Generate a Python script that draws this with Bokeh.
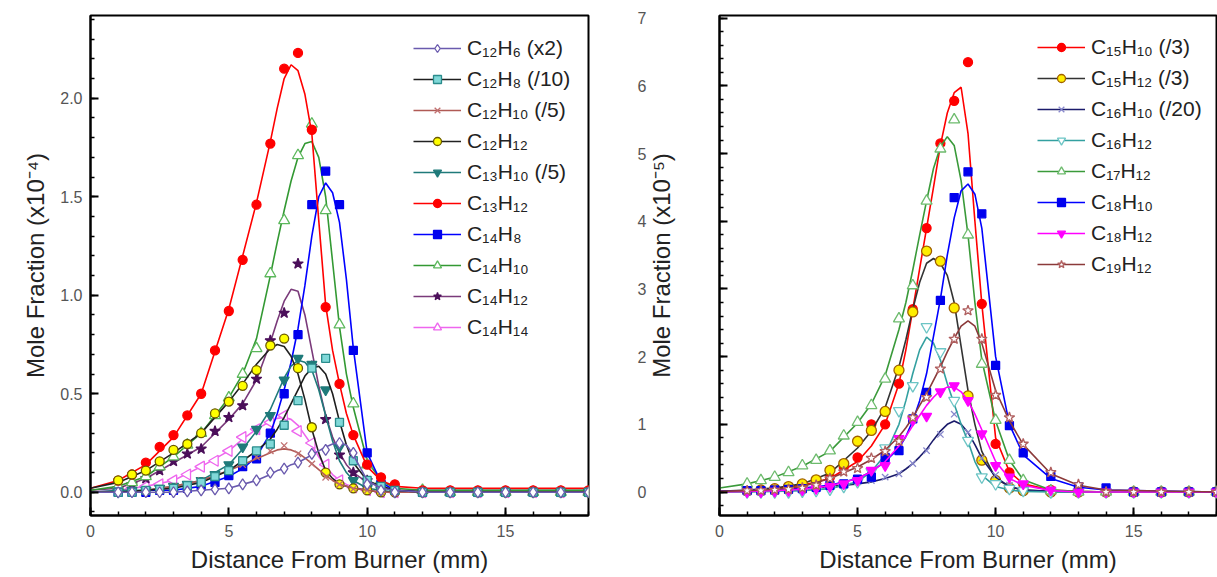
from bokeh.plotting import figure
from bokeh.models import Legend, LegendItem, SingleIntervalTicker, Range1d, NumeralTickFormatter
from bokeh.layouts import row
from bokeh.embed import file_html
from bokeh.resources import INLINE
import math

# ---------------- data ----------------
# measured points
distance = [1.0, 1.5, 2.0, 2.5, 3.0, 3.5, 4.0, 4.5, 5.0, 5.5, 6.0, 6.5, 7.0, 7.5,
            8.0, 8.5, 9.0, 9.5, 10.0, 10.5, 11.0, 12, 13, 14, 15, 16, 17, 18]
# positions at which the fitted curves were read
fit_distance = [0, 1, 2, 3, 4, 5, 5.5, 6, 6.5, 6.75, 7, 7.25, 7.5, 7.75, 8, 8.25, 8.5,
                8.75, 9, 9.25, 9.5, 10, 10.5, 11, 12, 13, 14, 18]

# left panel (x10^-4): measured points
c12h6 = [0.0, 0.0, 0.0, 0.0, 0.0, 0.005, 0.01, 0.015, 0.02, 0.04, 0.06, 0.10, 0.12, 0.15,
         0.195, 0.215, 0.25, 0.20, 0.04, 0.01, 0.0, 0, 0, 0, 0, 0, 0, 0]
c12h8 = [0.0, 0.0, 0.01, 0.015, 0.02, 0.034, 0.05, 0.08, 0.11, 0.16, 0.21, 0.245, 0.34, 0.465,
         0.63, 0.68, 0.355, 0.16, 0.06, 0.03, 0.01, 0, 0, 0, 0, 0, 0, 0]
c12h10 = [0.0, 0.005, 0.01, 0.02, 0.03, 0.04, 0.06, 0.08, 0.11, 0.14, 0.18, 0.21, 0.237, 0.195,
          0.144, 0.076, 0.04, 0.017, 0.01, 0.0, 0.0, 0, 0, 0, 0, 0, 0, 0]
c12h12 = [0.06, 0.09, 0.11, 0.157, 0.215, 0.245, 0.30, 0.40, 0.46, 0.54, 0.62, 0.745, 0.78, 0.63,
          0.33, 0.10, 0.04, 0.02, 0.01, 0.0, 0.0, 0, 0, 0, 0, 0, 0, 0]
c13h10 = [0.0, 0.01, 0.01, 0.02, 0.03, 0.04, 0.06, 0.09, 0.14, 0.23, 0.32, 0.39, 0.57, 0.68,
          0.65, 0.52, 0.23, 0.06, 0.02, 0.01, 0.0, 0, 0, 0, 0, 0, 0, 0]
c13h12 = [0.059, 0.09, 0.15, 0.23, 0.29, 0.39, 0.50, 0.72, 0.92, 1.18, 1.46, 1.77, 2.15, 2.23,
          1.84, 0.94, 0.55, 0.29, 0.14, 0.076, 0.04, 0.01, 0.01, 0.01, 0.01, 0.01, 0.01, 0.01]
c14h8 = [0.0, 0.0, 0.0, 0.01, 0.01, 0.02, 0.03, 0.05, 0.085, 0.13, 0.17, 0.30, 0.50, 0.80,
         1.46, 1.63, 1.46, 0.72, 0.20, 0.04, 0.01, 0, 0, 0, 0, 0, 0, 0]
c14h10 = [0.03, 0.05, 0.08, 0.13, 0.18, 0.24, 0.30, 0.39, 0.48, 0.60, 0.73, 1.11, 1.38, 1.71,
          1.87, 1.43, 0.85, 0.45, 0.14, 0.06, 0.02, 0.01, 0, 0, 0, 0, 0, 0]
c14h12 = [0.02, 0.04, 0.07, 0.11, 0.157, 0.195, 0.22, 0.31, 0.38, 0.44, 0.575, 0.77, 0.91, 1.16,
          0.64, 0.37, 0.19, 0.10, 0.06, 0.02, 0.01, 0, 0, 0, 0, 0, 0, 0]
c14h14 = [0.01, 0.02, 0.03, 0.04, 0.06, 0.09, 0.13, 0.16, 0.21, 0.28, 0.32, 0.355, 0.39, 0.31,
          0.25, 0.14, 0.06, 0.025, 0.01, 0.0, 0.0, 0, 0, 0, 0, 0, 0, 0]

# left panel (x10^-4): fitted curves
fit_c12h6 = [0, 0, 0, 0, 0.01, 0.02, 0.04, 0.06, 0.09, 0.11, 0.12, 0.14, 0.15, 0.17, 0.19,
             0.21, 0.23, 0.245, 0.25, 0.24, 0.19, 0.06, 0.02, 0.01, 0, 0, 0, 0]
fit_c12h8 = [0, 0, 0.01, 0.02, 0.05, 0.11, 0.16, 0.21, 0.27, 0.32, 0.38, 0.45, 0.52, 0.59,
             0.63, 0.64, 0.6, 0.5, 0.36, 0.24, 0.15, 0.06, 0.03, 0.01, 0, 0, 0, 0]
fit_c12h10 = [0, 0, 0.01, 0.03, 0.06, 0.11, 0.14, 0.17, 0.2, 0.215, 0.22, 0.215, 0.2, 0.175,
              0.145, 0.115, 0.085, 0.06, 0.04, 0.03, 0.02, 0.01, 0, 0, 0, 0, 0, 0]
fit_c12h12 = [0.02, 0.05, 0.11, 0.2, 0.3, 0.46, 0.55, 0.65, 0.73, 0.75, 0.74, 0.69, 0.6, 0.47,
              0.32, 0.2, 0.11, 0.07, 0.04, 0.03, 0.02, 0.01, 0, 0, 0, 0, 0, 0]
fit_c13h10 = [0, 0.01, 0.01, 0.03, 0.06, 0.14, 0.22, 0.31, 0.42, 0.5, 0.58, 0.64, 0.67, 0.66,
              0.62, 0.52, 0.39, 0.26, 0.16, 0.1, 0.06, 0.02, 0.01, 0, 0, 0, 0, 0]
fit_c13h12 = [0.02, 0.06, 0.14, 0.28, 0.5, 0.93, 1.2, 1.47, 1.78, 1.95, 2.1, 2.17, 2.14, 2.02,
              1.82, 1.38, 0.95, 0.72, 0.55, 0.4, 0.29, 0.13, 0.06, 0.03, 0.02, 0.02, 0.02, 0.02]
fit_c14h8 = [0, 0, 0.01, 0.01, 0.03, 0.08, 0.12, 0.18, 0.3, 0.4, 0.52, 0.66, 0.83, 1.05, 1.3,
             1.5, 1.57, 1.52, 1.37, 1.08, 0.73, 0.2, 0.05, 0.01, 0, 0, 0, 0]
fit_c14h10 = [0.01, 0.03, 0.08, 0.18, 0.3, 0.48, 0.6, 0.78, 1.1, 1.27, 1.43, 1.58, 1.7, 1.77,
              1.78, 1.7, 1.5, 1.17, 0.84, 0.6, 0.43, 0.16, 0.06, 0.02, 0.01, 0.01, 0.01, 0.01]
fit_c14h12 = [0.01, 0.02, 0.07, 0.15, 0.23, 0.37, 0.45, 0.57, 0.76, 0.87, 0.97, 1.03, 1.02, 0.9,
              0.72, 0.54, 0.39, 0.28, 0.2, 0.14, 0.1, 0.05, 0.03, 0.01, 0.01, 0.01, 0.01, 0.01]
fit_c14h14 = [0, 0.01, 0.03, 0.06, 0.13, 0.21, 0.27, 0.32, 0.36, 0.375, 0.38, 0.37, 0.34, 0.29,
              0.24, 0.18, 0.13, 0.09, 0.06, 0.04, 0.025, 0.01, 0, 0, 0, 0, 0, 0]

# right panel (x10^-5): measured points
c15h10 = [0.02, 0.03, 0.05, 0.07, 0.10, 0.17, 0.22, 0.37, 0.51, 1.0, 1.0, 1.6, 2.7, 3.9,
          5.15, 5.78, 6.35, 2.78, 0.71, 0.29, 0.12, 0.03, 0.0, 0, 0, 0, 0, 0]
c15h12 = [0.02, 0.03, 0.05, 0.08, 0.12, 0.18, 0.32, 0.42, 0.75, 0.91, 1.19, 1.80, 2.66, 3.56,
          3.41, 2.72, 1.42, 0.47, 0.17, 0.06, 0.02, 0, 0, 0, 0, 0, 0, 0]
c16h10 = [0.0, 0.0, 0.01, 0.02, 0.03, 0.05, 0.08, 0.12, 0.15, 0.17, 0.22, 0.27, 0.42, 0.61,
          0.85, 1.15, 0.88, 0.50, 0.25, 0.10, 0.05, 0.02, 0, 0, 0, 0, 0, 0]
c16h12 = [0.0, 0.0, 0.0, 0.0, 0.01, 0.02, 0.04, 0.08, 0.15, 0.30, 0.65, 1.2, 1.57, 2.44,
          2.07, 1.35, 0.76, 0.22, 0.12, 0.05, 0.02, 0, 0, 0, 0, 0, 0, 0]
c17h12 = [0.12, 0.17, 0.22, 0.29, 0.39, 0.47, 0.61, 0.83, 1.03, 1.28, 1.67, 2.56, 3.05, 4.3,
          5.07, 5.5, 3.8, 1.89, 1.06, 0.47, 0.17, 0.02, 0, 0, 0, 0, 0, 0]
c18h10 = [0.02, 0.02, 0.03, 0.04, 0.05, 0.07, 0.10, 0.12, 0.19, 0.22, 0.51, 0.61, 1.08, 1.47,
          2.83, 4.35, 4.73, 4.11, 1.87, 0.98, 0.58, 0.23, 0.08, 0.06, 0.0, 0, 0, 0]
c18h12 = [0.0, 0.0, 0.01, 0.02, 0.03, 0.05, 0.08, 0.12, 0.17, 0.32, 0.39, 0.79, 1.06, 1.12,
          1.48, 1.57, 1.35, 0.86, 0.39, 0.22, 0.12, 0.03, 0, 0, 0, 0, 0, 0]
c19h12 = [0.02, 0.02, 0.03, 0.04, 0.06, 0.10, 0.20, 0.30, 0.35, 0.50, 0.60, 0.75, 1.10, 1.40,
          1.82, 2.26, 2.68, 2.26, 1.43, 1.10, 0.71, 0.29, 0.11, 0.0, 0, 0, 0, 0]

# right panel (x10^-5): fitted curves
fit_c15h10 = [0.01, 0.02, 0.05, 0.1, 0.2, 0.45, 0.68, 1.0, 1.6, 2.1, 2.7, 3.3, 3.9, 4.5, 5.12,
              5.6, 5.9, 5.98, 5.3, 4.0, 2.78, 0.8, 0.3, 0.12, 0.03, 0.01, 0, 0]
fit_c15h12 = [0.01, 0.03, 0.06, 0.12, 0.28, 0.65, 0.9, 1.25, 1.85, 2.25, 2.7, 3.1, 3.38, 3.45,
              3.38, 3.2, 2.8, 2.15, 1.5, 1.0, 0.6, 0.2, 0.08, 0.03, 0.01, 0, 0, 0]
fit_c16h10 = [0, 0.01, 0.02, 0.04, 0.08, 0.12, 0.15, 0.2, 0.27, 0.34, 0.42, 0.52, 0.63, 0.77,
              0.9, 1.0, 1.05, 1.0, 0.88, 0.7, 0.5, 0.22, 0.08, 0.03, 0.01, 0, 0, 0]
fit_c16h12 = [0, 0, 0.01, 0.02, 0.05, 0.15, 0.3, 0.55, 1.0, 1.35, 1.75, 2.1, 2.29, 2.2, 1.95,
              1.6, 1.3, 1.0, 0.75, 0.45, 0.25, 0.08, 0.03, 0.01, 0, 0, 0, 0]
fit_c17h12 = [0.06, 0.12, 0.22, 0.38, 0.6, 1.02, 1.3, 1.72, 2.4, 2.8, 3.28, 3.8, 4.3, 4.78,
              5.1, 5.25, 5.12, 4.6, 3.8, 2.8, 1.95, 1.05, 0.47, 0.18, 0.03, 0.01, 0, 0]
fit_c18h10 = [0.01, 0.02, 0.04, 0.06, 0.1, 0.2, 0.3, 0.45, 0.65, 0.82, 1.05, 1.35, 1.75, 2.3,
              2.85, 3.5, 4.05, 4.45, 4.55, 4.4, 3.9, 2.0, 1.0, 0.55, 0.2, 0.07, 0.03, 0]
fit_c18h12 = [0, 0.01, 0.02, 0.04, 0.09, 0.2, 0.3, 0.45, 0.68, 0.82, 0.98, 1.13, 1.28, 1.4,
              1.5, 1.55, 1.55, 1.48, 1.35, 1.15, 0.92, 0.45, 0.2, 0.1, 0.02, 0, 0, 0]
fit_c19h12 = [0.01, 0.02, 0.04, 0.08, 0.2, 0.37, 0.48, 0.62, 0.82, 0.95, 1.1, 1.28, 1.45, 1.65,
              1.85, 2.07, 2.27, 2.45, 2.53, 2.45, 2.2, 1.5, 1.05, 0.7, 0.27, 0.1, 0.03, 0]

left_labels = ["C₁₂H₆ (x2)", "C₁₂H₈ (/10)", "C₁₂H₁₀ (/5)", "C₁₂H₁₂", "C₁₃H₁₀ (/5)",
               "C₁₃H₁₂", "C₁₄H₈", "C₁₄H₁₀", "C₁₄H₁₂", "C₁₄H₁₄"]
right_labels = ["C₁₅H₁₀ (/3)", "C₁₅H₁₂ (/3)", "C₁₆H₁₀ (/20)", "C₁₆H₁₂", "C₁₇H₁₂",
                "C₁₈H₁₀", "C₁₈H₁₂", "C₁₉H₁₂"]
x_title = "Distance From Burner (mm)"
left_y_title = "Mole Fraction (x10⁻⁴)"
right_y_title = "Mole Fraction (x10⁻⁵)"

left_points = [c12h6, c12h8, c12h10, c12h12, c13h10, c13h12, c14h8, c14h10, c14h12, c14h14]
left_fits = [fit_c12h6, fit_c12h8, fit_c12h10, fit_c12h12, fit_c13h10, fit_c13h12,
             fit_c14h8, fit_c14h10, fit_c14h12, fit_c14h14]
right_points = [c15h10, c15h12, c16h10, c16h12, c17h12, c18h10, c18h12, c19h12]
right_fits = [fit_c15h10, fit_c15h12, fit_c16h10, fit_c16h12, fit_c17h12, fit_c18h10,
              fit_c18h12, fit_c19h12]

# ---------------- styles ----------------
# (line color, marker, marker fill, marker edge, size, angle)
left_styles = [
    ("#6a5aae", "diamond", "white", "#6a5aae", 11, 0),
    ("#1e1e1e", "square", "#80d8d8", "#2a8c8c", 8, 0),
    ("#b05a55", "x", None, "#c07070", 9, 0),
    ("#222222", "circle", "#ffff00", "#6b5a00", 9, 0),
    ("#1f7a7a", "inverted_triangle", "#1f7a7a", "#1f7a7a", 10, 0),
    ("#ff0000", "circle", "#ff0000", "#ff0000", 9, 0),
    ("#0000ff", "square", "#0000ee", "#0000ee", 8, 0),
    ("#339933", "triangle", "white", "#5cb85c", 11, 0),
    ("#7a3a7a", "star", "#4b0f5a", "#4b0f5a", 11, 0),
    ("#ee66ee", "triangle", "white", "#ee66ee", 11, math.pi / 2),
]
right_styles = [
    ("#ff0000", "circle", "#ff0000", "#ff0000", 9, 0),
    ("#333333", "circle", "#ffee00", "#a06000", 10, 0),
    ("#1b1b6b", "x", None, "#8888cc", 9, 0),
    ("#33a0a0", "inverted_triangle", "white", "#6cc5c5", 11, 0),
    ("#3a9a3a", "triangle", "white", "#6dbb6d", 11, 0),
    ("#0000ff", "square", "#0000ee", "#0000ee", 8, 0),
    ("#ff00ff", "inverted_triangle", "#ff00ff", "#ff00ff", 10, 0),
    ("#8b3a3a", "star", "white", "#b06060", 11, 0),
]

FONT = "Liberation Sans"


def style_axis(ax):
    ax.axis_line_width = 2
    ax.axis_line_color = "black"
    ax.major_tick_in = 8
    ax.major_tick_out = 0
    ax.minor_tick_in = 4
    ax.minor_tick_out = 0
    ax.major_tick_line_width = 2
    ax.minor_tick_line_width = 1.5
    ax.major_label_text_font = FONT
    ax.major_label_text_font_size = "16px"
    ax.major_label_text_color = "#555555"
    ax.axis_label_text_font = FONT
    ax.axis_label_text_font_size = "24px"
    ax.axis_label_text_font_style = "normal"
    ax.axis_label_text_color = "#222222"


def make_panel(width, border_left, border_right, yr, ytick, points, fits, labels, styles,
               legend_loc, reverse_draw):
    p = figure(width=width, height=577, x_range=Range1d(0, 18), y_range=Range1d(*yr),
               output_backend="svg", toolbar_location=None,
               min_border_left=border_left, min_border_right=border_right,
               min_border_top=15, min_border_bottom=62)
    p.grid.visible = False
    p.outline_line_color = "black"
    p.outline_line_width = 2
    p.background_fill_color = "white"
    p.border_fill_color = "white"
    p.xaxis.ticker = SingleIntervalTicker(interval=5, num_minor_ticks=5)
    p.yaxis.ticker = SingleIntervalTicker(interval=ytick, num_minor_ticks=5)
    for ax in list(p.xaxis) + list(p.yaxis):
        style_axis(ax)
    for ax in p.xaxis:
        ax.axis_label = x_title
        ax.major_label_standoff = 9
        ax.axis_label_standoff = 6
    idx = list(range(len(points)))
    if reverse_draw:
        idx = idx[::-1]
    rend = {}
    for i in idx:
        lc, mk, fill, edge, size, ang = styles[i]
        lr = p.line(fit_distance, fits[i], line_color=lc, line_width=1.6)
        sr = p.scatter(distance, points[i], marker=mk, size=size, angle=ang,
                       fill_color=fill, line_color=edge, line_width=1.3)
        rend[i] = (lr, sr)
    items = [LegendItem(label=labels[i], renderers=list(rend[i])) for i in range(len(points))]
    leg = Legend(items=items, location=legend_loc, padding=0, margin=0, spacing=7,
                 glyph_width=48, glyph_height=20, label_height=20, label_standoff=6,
                 label_text_font=FONT, label_text_font_size="21px",
                 label_text_color="#222222", background_fill_alpha=0,
                 border_line_color=None)
    p.add_layout(leg)
    return p


p1 = make_panel(608, 90, 20, (-0.118, 2.42), 0.5, left_points, left_fits,
                left_labels, left_styles, (323, 176), True)
for ax in p1.yaxis:
    ax.formatter = NumeralTickFormatter(format="0.0")
    ax.axis_label = left_y_title
    ax.major_label_standoff = 8
    ax.axis_label_standoff = 8

p2 = make_panel(609, 111, 1, (-0.347, 7.04), 1, right_points, right_fits,
                right_labels, right_styles, (318, 239), False)
for ax in p2.yaxis:
    ax.axis_label = right_y_title
    ax.major_label_standoff = 73
    ax.axis_label_standoff = -40

layout = row(p1, p2)
open("out.html", "w").write(file_html(layout, INLINE))
